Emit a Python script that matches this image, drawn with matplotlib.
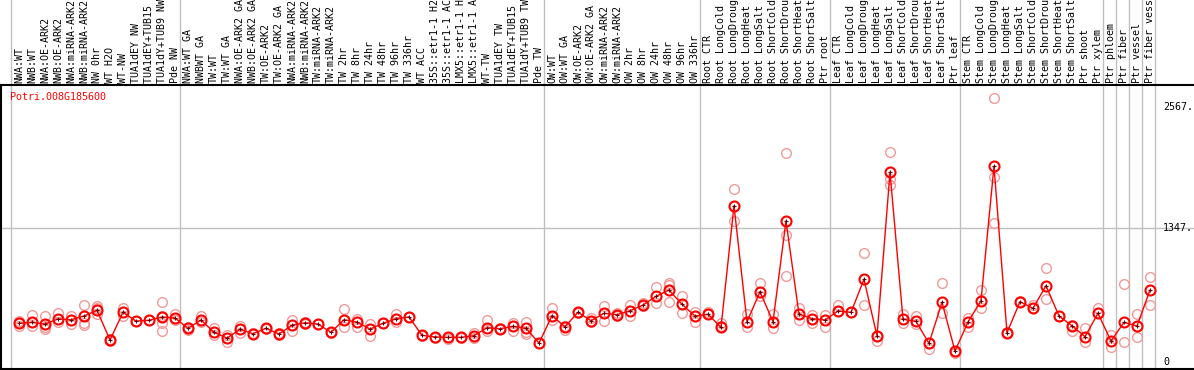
import matplotlib
matplotlib.use("Agg")
import matplotlib.pyplot as plt
import matplotlib.transforms as mtransforms
import numpy as np

gene = "Potri.008G185600"

samples = [
    "NWA:WT", "NWB:WT", "NWA:OE-ARK2", "NWB:OE-ARK2", "NWA:miRNA-ARK2", "NWB:miRNA-ARK2",
    "NW 0hr", "WT H2O", "WT-NW", "TUA1dEY NW", "TUA1dEY+TUB15 NW", "TUA1dY+TUB9 NW", "Pde NW",
    "NWA:WT GA", "NWBWT GA", "TW:WT", "TW:WT GA", "NWA:OE-ARK2 GA", "NWB:OE-ARK2 GA",
    "TW:OE-ARK2", "TW:OE-ARK2 GA", "NWA:miRNA-ARK2", "NWB:miRNA-ARK2", "TW:miRNA-ARK2",
    "TW:miRNA-ARK2", "TW 2hr", "TW 8hr", "TW 24hr", "TW 48hr", "TW 96hr", "TW 336hr",
    "WT ACC", "35S::etr1-1 H2O", "35S::etr1-1 ACC", "LMX5::etr1-1 H2O", "LMX5::etr1-1 ACC",
    "WT-TW", "TUA1dEY TW", "TUA1dEY+TUB15 TW", "TUA1dY+TUB9 TW", "Pde TW",
    "OW:WT", "OW:WT GA", "OW:OE-ARK2", "OW:OE-ARK2 GA", "OW:miRNA-ARK2", "OW:miRNA-ARK2",
    "OW 2hr", "OW 8hr", "OW 24hr", "OW 48hr", "OW 96hr", "OW 336hr",
    "Root CTR", "Root LongCold", "Root LongDrought", "Root LongHeat", "Root LongSalt",
    "Root ShortCold", "Root ShortDrought", "Root ShortHeat", "Root ShortSalt", "Ptr root",
    "Leaf CTR", "Leaf LongCold", "Leaf LongDrought", "Leaf LongHeat", "Leaf LongSalt",
    "Leaf ShortCold", "Leaf ShortDrought", "Leaf ShortHeat", "Leaf ShortSalt", "Ptr leaf",
    "Stem CTR", "Stem LongCold", "Stem LongDrought", "Stem LongHeat", "Stem LongSalt",
    "Stem ShortCold", "Stem ShortDrought", "Stem ShortHeat", "Stem ShortSalt", "Ptr shoot",
    "Ptr xylem", "Ptr phloem", "Ptr fiber", "Ptr vessel", "Ptr fiber vessel",
]

# number of samples in each block, separated by grey lines
group_sizes = [13, 28, 12, 10, 10, 11, 1, 1, 1, 1]

means = [
    391, 401, 384, 435, 428, 465, 522, 223, 502, 414, 422, 455, 445,
    341, 425, 301, 243, 331, 287, 341, 284, 372, 397, 384, 301, 428, 404, 334, 391, 438,
    455, 271, 254, 250, 250, 267, 347, 337, 361, 341, 193,
    468, 357, 502, 417, 492, 478, 518, 575, 663, 726, 582, 465,
    482, 351, 1574, 407, 709, 407, 1420, 485, 438, 425,
    515, 502, 834, 264, 1910, 432, 411, 190, 603, 113,
    404, 619, 1971, 297, 609, 542, 770, 465, 367, 257, 492,
    213, 401, 364, 726,
]

replicates = [
    [391, 363, 413], [475, 368, 401], [465, 331, 357], [492, 407], [465, 381],
    [572, 397, 374], [565, 482, 545], [213, 233], [542, 465], [410, 418],
    [420, 425], [603, 391, 314, 468], [482, 425],
    [357, 324], [465, 407], [347, 274], [274, 206], [364, 291], [287, 290],
    [338, 345], [297, 271], [425, 317], [381, 405], [384, 388], [291, 305],
    [535, 357], [435, 357], [381, 264], [391, 395], [482, 401], [455, 458],
    [271, 268], [240, 258], [233, 252], [250, 247], [297, 243], [425, 314],
    [337, 340], [391, 314], [407, 287, 304], [193, 190],
    [542, 425], [324, 360], [492, 505], [442, 407], [565, 417], [492, 470],
    [575, 465], [599, 570], [760, 599], [800, 777, 603], [666, 498], [508, 401],
    [508, 485], [391, 360], [1739, 1420], [482, 357], [800, 666], [482, 341],
    [2102, 1280, 867], [542, 425], [475, 397], [475, 357],
    [575, 520], [508, 505], [1099, 575], [216, 268], [2115, 1843, 1782],
    [482, 391], [468, 381], [133, 195], [794, 492], [90, 115],
    [442, 357], [726, 542], [2655, 1860, 1397], [297, 300], [605, 612],
    [572, 545], [945, 636], [465, 470], [314, 372], [347, 200], [542, 495],
    [274, 156], [787, 206], [485, 250], [575, 860],
]

y_ticks = [0, 1347, 2567]
y_tick_labels = ["0", "1347.", "2567."]

W, H = 1194, 370
fig = plt.figure(figsize=(W / 100, H / 100), dpi=100)
# plot frame: x 1..1194 px, y 85..369 px from top
ax = fig.add_axes([1 / W, 1 / H, 1 - 1 / W, (369 - 85) / H])

mono = "DejaVu Sans Mono"
grey = "#c0c0c0"
rep_col = "#f09a9a"

x = np.arange(len(samples))
for i, reps in enumerate(replicates):
    ax.plot([i] * len(reps), reps, ls="none", marker="o", ms=7.0,
            mfc="none", mec=rep_col, mew=1.0, zorder=2)
ax.plot(x, means, color="red", lw=1.0, zorder=3)
ax.plot(x, means, ls="none", marker="o", ms=7.2, mfc="none",
        mec="red", mew=1.5, zorder=4)
ax.plot(x, means, ls="none", marker="+", ms=3, mec="#600000", mew=0.8, zorder=5)

# column i sits at pixel 19 + 13*i
ax.set_xlim((1 - 19) / 13, (1194 - 19) / 13)
ax.set_ylim(-68, 2788)

ax.axhline(1347, color=grey, lw=1, zorder=1)

top_ext = (369) / (369 - 85)
start = 0
bounds = [0]
for g in group_sizes:
    start += g
    bounds.append(start)
for b in bounds:
    ax.axvline(b - 8 / 13, ymin=0, ymax=top_ext, color=grey, lw=1,
               clip_on=False, zorder=1)

for s in ["right"]:
    ax.spines[s].set_visible(False)
for s in ["left", "bottom", "top"]:
    ax.spines[s].set_color("black")
    ax.spines[s].set_linewidth(1.5)
ax.set_xticks([])
ax.set_yticks([])

trans = mtransforms.blended_transform_factory(ax.transData, ax.transAxes)
for i, name in enumerate(samples):
    ax.text(i, 1 + 2 / 284, name[:14], rotation=90, ha="center", va="bottom",
            family=mono, fontsize=7.2, transform=trans, clip_on=False)

for v, lab in zip(y_ticks, y_tick_labels):
    ax.text((1163 - 19) / 13, v, lab, ha="left", va="center",
            family=mono, fontsize=7.2, zorder=6)

fig.text(10 / W, 1 - 97 / H, gene, color="red", family=mono, fontsize=7.2,
         ha="left", va="center")

fig.savefig("out.png", dpi=100)
